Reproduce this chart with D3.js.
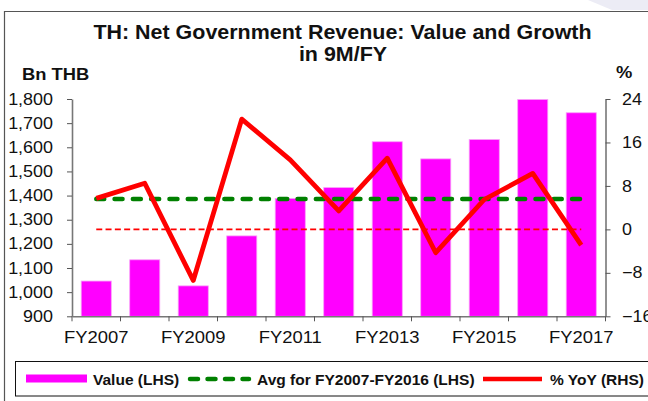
<!DOCTYPE html>
<html>
<head>
<meta charset="utf-8">
<script src="https://cdn.jsdelivr.net/npm/d3@7"></script>
<style>
  body { margin: 0; background: #fff; }
  svg { display: block; font-family: "Liberation Sans", Arial, sans-serif; }
  .axis path, .axis line { stroke: #555; }
  .axis text { fill: #111; font-size: 16px; }
</style>
</head>
<body>
<div class="plot"></div>
<script>
// values
var years = ['FY2007','FY2008','FY2009','FY2010','FY2011','FY2012','FY2013','FY2014','FY2015','FY2016','FY2017'];
var revenue = [1046, 1134, 1026, 1233, 1388, 1433, 1623, 1552, 1632, 1798, 1743];
var yoy = [5.7, 8.5, -9.4, 20.3, 12.8, 3.4, 13.1, -4.3, 5.5, 10.3, -2.9];
var avg = [1386, 1386, 1386, 1386, 1386, 1386, 1386, 1386, 1386, 1386, 1386];
var zero = [0, 0, 0, 0, 0, 0, 0, 0, 0, 0, 0];
var leftTicks = [900, 1000, 1100, 1200, 1300, 1400, 1500, 1600, 1700, 1800];
var rightTicks = [-16, -8, 0, 8, 16, 24];
var xLabels = ['FY2007','FY2009','FY2011','FY2013','FY2015','FY2017'];
var legendItems = ['Value (LHS)', 'Avg for FY2007-FY2016 (LHS)', '% YoY (RHS)'];

var W = 648, H = 401;
var m = {t:99, r:W-605.5, b:H-316.3, l:72};

// fonts in the picture are a little wider than they are tall
function stretch(sel, k){
    sel.each(function(){
        var len = this.getComputedTextLength();
        d3.select(this).attr('textLength', len*k).attr('lengthAdjust','spacingAndGlyphs');
    });
}

var svg = d3.select('.plot').append('svg')
    .attr('width', W)
    .attr('height', H);

// faint shape in the top right corner
svg.append('polygon')
    .attr('points', '588,0 648,0 648,10 612,10')
    .style('fill', '#ececf5');

// frame
svg.append('path')
    .attr('d', 'M4.5,' + H + 'V11.5H' + W)
    .style('fill','none').style('stroke','#555').style('stroke-width',1.2);

var x = d3.scaleBand().domain(years).range([m.l, W-m.r]).paddingInner(0.38).paddingOuter(0.19);
var yL = d3.scaleLinear().domain([900,1800]).range([H-m.b, m.t]);
var yR = d3.scaleLinear().domain([-16,24]).range([H-m.b, m.t]);
var cx = function(d){ return x(d) + x.bandwidth()/2; };

// bars
svg.append('g').selectAll('rect')
    .data(revenue)
    .enter()
    .append('rect')
    .attr('x', function(d,i){ return x(years[i]); })
    .attr('width', x.bandwidth())
    .attr('y', function(d){ return yL(d); })
    .attr('height', function(d){ return yL(900) - yL(d); })
    .style('fill', '#ff00ff')
    .style('stroke', '#f9a0f9')
    .style('stroke-width', 0.8);

// zero line (RHS)
svg.append('path')
    .datum(zero)
    .attr('d', d3.line().x(function(d,i){ return cx(years[i]); }).y(function(d){ return yR(d); }))
    .style('fill','none').style('stroke','#ff0000').style('stroke-width',1.6)
    .style('stroke-dasharray','6,3.3');

// average line (LHS)
svg.append('path')
    .datum(avg)
    .attr('d', d3.line().x(function(d,i){ return cx(years[i]); }).y(function(d){ return yL(d); }))
    .style('fill','none').style('stroke','#008000').style('stroke-width',4.5)
    .style('stroke-linecap','round')
    .style('stroke-dasharray','8,10.3');

// growth line (RHS)
svg.append('path')
    .datum(yoy)
    .attr('d', d3.line().x(function(d,i){ return cx(years[i]); }).y(function(d){ return yR(d); }))
    .style('fill','none').style('stroke','#ff0000').style('stroke-width',4.8)
    .style('stroke-linejoin','round');

// axes
var gl = svg.append('g').attr('class','axis')
    .attr('transform','translate(' + m.l + ',0)')
    .call(d3.axisLeft(yL).tickValues(leftTicks).tickFormat(d3.format(',')).tickSize(5).tickSizeOuter(0).tickPadding(14));
gl.select('.domain').style('stroke','#777').style('stroke-width',1.6);

var gr = svg.append('g').attr('class','axis')
    .attr('transform','translate(' + (W-m.r) + ',0)')
    .call(d3.axisRight(yR).tickValues(rightTicks).tickSize(5).tickSizeOuter(0).tickPadding(11.5));
gr.select('.domain').style('stroke','#777').style('stroke-width',1.6);

var gb = svg.append('g').attr('class','axis')
    .attr('transform','translate(0,' + (H-m.b) + ')')
    .call(d3.axisBottom(x).tickValues(xLabels).tickSize(0).tickSizeOuter(0).tickPadding(15));
gb.select('.domain').style('stroke','#777').style('stroke-width',1.6);

// ticks on the category edges
var gap = (x.step() - x.bandwidth())/2;
gb.selectAll('line.edge')
    .data(years.concat(['end']))
    .enter()
    .append('line')
    .attr('class','edge')
    .attr('x1', function(d){ return d=='end' ? W-m.r : x(d) - gap; })
    .attr('x2', function(d){ return d=='end' ? W-m.r : x(d) - gap; })
    .attr('y1', 0).attr('y2', 5);

stretch(gl.selectAll('text'), 1.12);
stretch(gr.selectAll('text'), 1.12);
stretch(gb.selectAll('text'), 1.15);

// titles
var title = svg.append('text')
    .attr('x', 342.5).attr('y', 39)
    .attr('text-anchor','middle')
    .style('font-weight','bold').style('font-size','19.5px').style('fill','#111');
title.append('tspan').text('TH: Net Government Revenue: Value and Growth');
stretch(title, 1.1);
var title2 = svg.append('text')
    .attr('x', 343).attr('y', 61)
    .attr('text-anchor','middle')
    .style('font-weight','bold').style('font-size','19.5px').style('fill','#111')
    .text('in 9M/FY');
stretch(title2, 1.1);

var unitL = svg.append('text').attr('x', 22).attr('y', 80)
    .style('font-weight','bold').style('font-size','16.7px').style('fill','#111')
    .text('Bn THB');
stretch(unitL, 1.1);
var unitR = svg.append('text').attr('x', 616).attr('y', 78)
    .style('font-weight','bold').style('font-size','16.7px').style('fill','#111')
    .text('%');
stretch(unitR, 1.1);

// legend
var lg = svg.append('g');
lg.append('rect')
    .attr('x', 15.5).attr('y', 361.5).attr('width', 640).attr('height', 34.5)
    .style('fill','#fff').style('stroke','#111').style('stroke-width',1);

lg.append('line').attr('x1',26).attr('x2',87).attr('y1',378.5).attr('y2',378.5)
    .style('stroke','#ff00ff').style('stroke-width',8);
lg.append('line').attr('x1',190).attr('x2',249).attr('y1',379).attr('y2',379)
    .style('stroke','#008000').style('stroke-width',4.5).style('stroke-linecap','round')
    .style('stroke-dasharray','8,9.5');
lg.append('line').attr('x1',483).attr('x2',542).attr('y1',379).attr('y2',379)
    .style('stroke','#ff0000').style('stroke-width',4.5);

var legendX = [93, 257, 550];
lg.selectAll('text.leg')
    .data(legendItems)
    .enter()
    .append('text')
    .attr('class','leg')
    .attr('x', function(d,i){ return legendX[i]; })
    .attr('y', 384.5)
    .style('font-weight','bold').style('font-size','14.5px').style('fill','#111')
    .text(function(d){ return d; })
    .call(stretch, 1.07);
</script>
</body>
</html>
